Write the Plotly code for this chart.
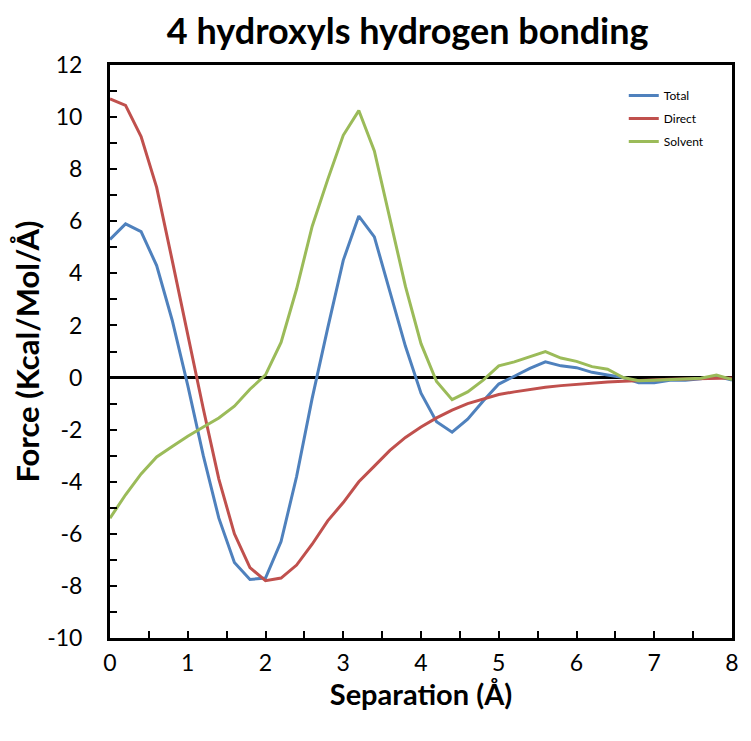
import plotly.graph_objects as go

separation = [round(0.2 * i, 1) for i in range(41)]

total = [5.3, 5.9, 5.6, 4.3, 2.2, -0.3, -3.0, -5.4, -7.1, -7.75,
         -7.7, -6.3, -3.8, -0.8, 1.9, 4.5, 6.2, 5.4, 3.3, 1.2,
         -0.6, -1.7, -2.1, -1.6, -0.9, -0.25, 0.05, 0.35, 0.6, 0.45,
         0.38, 0.2, 0.1, 0.0, -0.2, -0.2, -0.1, -0.1, -0.05, 0.05, -0.1]

direct = [10.7, 10.45, 9.25, 7.3, 4.5, 1.6, -1.2, -3.9, -6.0, -7.3,
          -7.8, -7.7, -7.2, -6.4, -5.5, -4.8, -4.0, -3.4, -2.8, -2.3,
          -1.9, -1.55, -1.25, -1.0, -0.82, -0.65, -0.55, -0.45, -0.37, -0.31,
          -0.26, -0.21, -0.17, -0.14, -0.11, -0.09, -0.07, -0.06, -0.04, -0.03, -0.02]

solvent = [-5.4, -4.5, -3.7, -3.05, -2.65, -2.25, -1.9, -1.55, -1.1, -0.45,
           0.1, 1.35, 3.4, 5.8, 7.6, 9.3, 10.25, 8.7, 6.1, 3.5,
           1.3, -0.15, -0.85, -0.55, -0.1, 0.45, 0.6, 0.8, 1.0, 0.75,
           0.62, 0.42, 0.32, 0.0, -0.12, -0.1, -0.08, -0.07, -0.03, 0.1, -0.08]

x_ticks = [0, 1, 2, 3, 4, 5, 6, 7, 8]
y_ticks = [-10, -8, -6, -4, -2, 0, 2, 4, 6, 8, 10, 12]
y_ticklabels = [str(v) for v in y_ticks]

series = [("Total", total, "#4F81BD"),
          ("Direct", direct, "#C0504D"),
          ("Solvent", solvent, "#9BBB59")]

font_family = "Lato, Open Sans, Liberation Sans, sans-serif"

fig = go.Figure()
for name, vals, color in series:
    fig.add_trace(go.Scatter(x=separation, y=vals, mode="lines", name=name,
                             legendgroup=name,
                             line=dict(color=color, width=3)))

axis_common = dict(showline=True, linecolor="black", linewidth=3, mirror=True,
                   ticks="inside", ticklen=7, tickwidth=2, tickcolor="black",
                   showgrid=False, tickfont=dict(size=23, color="black", family=font_family))

fig.update_layout(
    width=743, height=733,
    margin=dict(l=102, r=16, t=57, b=103),
    paper_bgcolor="white", plot_bgcolor="white",
    font=dict(family=font_family, color="black"),
    title=dict(text="<b>4 hydroxyls hydrogen bonding</b>", x=0.538, xanchor="center",
               y=0.968, yanchor="middle", font=dict(size=36, color="black", family=font_family)),
    xaxis=dict(range=[0, 8], tickmode="array", tickvals=x_ticks,
               ticktext=[str(v) for v in x_ticks],
               minor=dict(ticks="inside", dtick=0.5, tick0=0, ticklen=7, tickwidth=2, tickcolor="black"),
               zeroline=False, ticklabelstandoff=2,
               title=dict(text="<b>Separation (Å)</b>", font=dict(size=29, color="black"), standoff=5),
               **axis_common),
    yaxis=dict(range=[-10, 12], tickmode="array", tickvals=y_ticks, ticktext=y_ticklabels,
               minor=dict(ticks="inside", dtick=1, tick0=0, ticklen=7, tickwidth=2, tickcolor="black"),
               zeroline=True, zerolinecolor="black", zerolinewidth=3, ticklabelstandoff=20,
               title=dict(text="<b>Force (Kcal/Mol/Å)</b>", font=dict(size=31, color="black"), standoff=0),
               **axis_common),
    legend=dict(x=0.826, y=0.972, xanchor="left", yanchor="top",
                bgcolor="rgba(0,0,0,0)", font=dict(size=12, color="black"),
                tracegroupgap=4, itemwidth=30),
    showlegend=True,
)

fig.write_html("out.html")
